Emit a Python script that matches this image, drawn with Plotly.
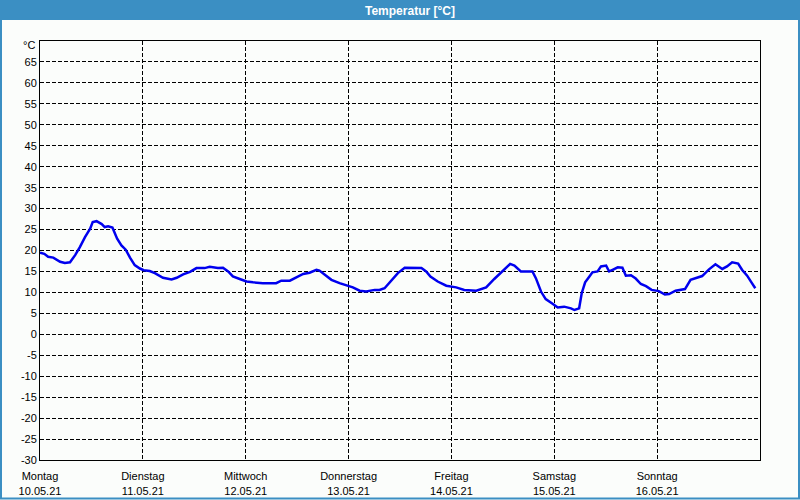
import plotly.graph_objects as go

# ---- data ----
hours = [0, 1.0, 1.9, 3.1, 4.7, 5.8, 7.0, 8.2, 9.3, 10.5, 11.7, 12.3, 13.2, 14.4, 15.1, 15.9,
         16.9, 17.5, 18.0, 19.0, 20.0, 21.0, 22.1, 23.3, 24.2, 25.6, 26.8, 28.7, 30.7, 31.9,
         33.4, 35.0, 36.5, 38.4, 39.6, 41.5, 42.7, 43.9, 45.0, 46.6, 48.2, 49.7, 52.0, 55.1,
         56.3, 58.3, 59.8, 61.4, 62.9, 64.5, 65.2, 66.6, 68.0, 69.9, 71.5, 73.0, 74.6, 76.1,
         78.1, 79.2, 80.4, 82.0, 83.5, 85.1, 87.0, 89.0, 90.1, 91.1, 92.8, 94.8, 97.1, 99.0,
         101.8, 104.1, 106.0, 108.0, 109.7, 110.7, 112.2, 114.9, 115.7, 116.9, 118.0, 119.6,
         120.8, 122.3, 123.9, 124.7, 125.8, 126.4, 127.2, 128.2, 128.9, 130.1, 130.9, 132.1,
         132.8, 133.6, 134.8, 135.9, 136.7, 137.9, 139.0, 140.2, 141.4, 142.7, 144.4, 145.8,
         146.8, 148.3, 150.5, 151.8, 153.0, 154.5, 156.1, 157.6, 159.2, 160.3, 161.5, 162.9,
         163.8, 165.0, 166.0, 166.9]
temps = [19.5, 19.2, 18.5, 18.3, 17.3, 17.0, 17.2, 18.9, 20.8, 23.2, 25.2, 26.8, 27.0, 26.3, 25.6, 25.8,
         25.5, 24.2, 22.8, 21.2, 20.2, 18.3, 16.5, 15.7, 15.3, 15.1, 14.6, 13.5, 13.1, 13.5,
         14.3, 14.9, 15.8, 15.8, 16.1, 15.8, 15.9, 15.0, 13.8, 13.2, 12.6, 12.4, 12.2, 12.2,
         12.8, 12.8, 13.6, 14.4, 14.7, 15.4, 15.2, 14.0, 13.0, 12.2, 11.6, 11.2, 10.4, 10.2,
         10.6, 10.6, 11.0, 13.0, 14.6, 15.9, 15.9, 15.8, 15.0, 13.8, 12.6, 11.6, 11.2, 10.6,
         10.4, 11.2, 13.2, 15.2, 16.8, 16.4, 15.0, 15.0, 13.4, 10.2, 8.4, 7.3,
         6.4, 6.6, 6.2, 5.8, 6.2, 9.8, 12.4, 13.8, 14.8, 15.0, 16.2, 16.4,
         15.0, 15.4, 16.0, 15.9, 14.0, 14.1, 13.3, 12.0, 11.5, 10.6, 10.3, 9.5,
         9.6, 10.4, 10.8, 13.0, 13.4, 13.9, 15.5, 16.7, 15.6, 16.2, 17.2, 16.9,
         15.4, 14.0, 12.4, 11.0]

day_names = ["Montag", "Dienstag", "Mittwoch", "Donnerstag", "Freitag", "Samstag", "Sonntag"]
day_dates = ["10.05.21", "11.05.21", "12.05.21", "13.05.21", "14.05.21", "15.05.21", "16.05.21"]
day_hours = [0, 24, 48, 72, 96, 120, 144]
y_ticks = list(range(-30, 70, 5))
title_text = "Temperatur [°C]"
unit_text = "°C"

# ---- geometry helpers (pixel -> paper) ----
L, R, T, B = 40, 40, 41, 40
W, H = 800, 500
PW, PH = W - L - R, H - T - B
def px(x):
    return (x - L) / PW
def py(y):
    return (H - B - y) / PH

FONT = "Liberation Sans"
BLUE = "#3b8fc3"

fig = go.Figure()
fig.add_trace(go.Scatter(x=hours, y=temps, mode="lines",
                         line=dict(color="#0000ee", width=2.5), hoverinfo="skip"))

fig.update_layout(
    width=W, height=H,
    margin=dict(l=L, r=R, t=T, b=B, autoexpand=False),
    paper_bgcolor="#fbfdfb", plot_bgcolor="#fbfdfb",
    showlegend=False,
    font=dict(family=FONT, size=11, color="#000000"),
    xaxis=dict(range=[0, 168], tickvals=day_hours,
               ticktext=[f"{n}<br>{d}" for n, d in zip(day_names, day_dates)],
               showgrid=True, gridcolor="#000000", griddash="4px,2px", gridwidth=1,
               showline=True, linecolor="#000000", linewidth=1, mirror=True,
               zeroline=False, ticks="", fixedrange=True, ticklabelstandoff=6,
               automargin=False),
    yaxis=dict(range=[-30, 70], tickvals=y_ticks, ticktext=[str(v) for v in y_ticks],
               showgrid=True, gridcolor="#000000", griddash="4px,2px", gridwidth=1,
               showline=True, linecolor="#000000", linewidth=1, mirror=True,
               zeroline=False, ticks="", fixedrange=True, automargin=False),
)

# title bar
fig.add_shape(type="rect", xref="paper", yref="paper",
              x0=px(0), x1=px(800), y0=py(20), y1=py(0),
              fillcolor=BLUE, line=dict(width=0), layer="above")
# outer border
fig.add_shape(type="rect", xref="paper", yref="paper",
              x0=px(1), x1=px(799), y0=py(498.5), y1=py(19),
              fillcolor="rgba(0,0,0,0)", line=dict(color=BLUE, width=2), layer="above")

fig.add_annotation(xref="paper", yref="paper", x=px(410), y=py(10.5),
                   text=f"<b>{title_text}</b>", showarrow=False,
                   font=dict(family=FONT, size=12, color="#ffffff"),
                   xanchor="center", yanchor="middle")
fig.add_annotation(xref="paper", yref="paper", x=px(37), y=py(45.5),
                   text=unit_text, showarrow=False,
                   font=dict(family=FONT, size=11, color="#000000"),
                   xanchor="right", yanchor="middle")

fig.write_html("out.html", config={"displayModeBar": False},
               post_script="document.body.style.margin='0';")
